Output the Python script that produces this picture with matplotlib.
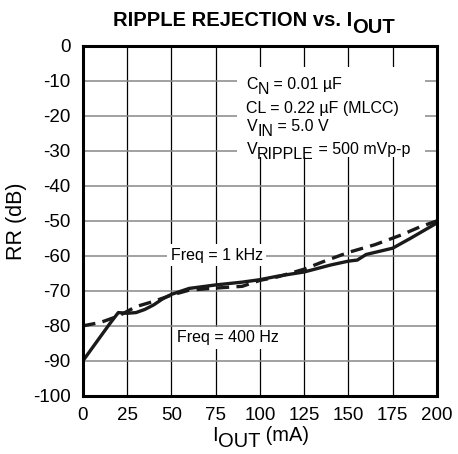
import matplotlib
matplotlib.use("Agg")
import matplotlib.pyplot as plt
from matplotlib.patches import Rectangle

plt.rcParams['font.family'] = ['Liberation Sans', 'DejaVu Sans']
plt.rcParams['axes.unicode_minus'] = False

# Data
x_solid = [0, 5, 10, 15, 20, 25, 30, 35, 40, 45, 50, 60, 75, 90, 100, 110, 125,
           140, 150, 155, 160, 175, 185, 200]
rr_solid = [-90, -86.5, -83, -79.5, -76.2, -76.4, -76.2, -75.3, -74, -72.3, -71,
            -69.3, -68.3, -67.5, -66.8, -65.8, -64.6, -62.6, -61.5, -61.2, -59.6,
            -57.8, -55, -50.6]
x_dash = [0, 10, 20, 30, 40, 50, 60, 75, 90, 100, 110, 125, 135, 150, 165, 180,
          190, 200]
rr_dash = [-80, -79, -77.2, -74.5, -73, -71.2, -69.8, -69.2, -68.7, -67, -66,
           -63.8, -61.8, -59, -56.8, -54, -51.8, -50]
x_ticks = [0, 25, 50, 75, 100, 125, 150, 175, 200]
y_ticks = [0, -10, -20, -30, -40, -50, -60, -70, -80, -90, -100]

fig = plt.figure(figsize=(4.58, 4.54), dpi=100)
ax = fig.add_axes([0.181, 0.128, 0.773, 0.771])

ax.set_xlim(0, 200)
ax.set_ylim(-100, 0)
ax.set_xticks(x_ticks)
ax.set_yticks(y_ticks)
ax.tick_params(length=0, labelsize=13.5)
ax.tick_params(axis='y', pad=9)
ax.tick_params(axis='x', pad=8)

for t in x_ticks[1:-1]:
    ax.axvline(t, color='black', lw=0.9, zorder=1)
for t in y_ticks[1:-1]:
    ax.axhline(t, color='#888888', lw=1.1, zorder=1)

ax.plot(x_solid, rr_solid, color='#1a1a1a', lw=2.4, solid_capstyle='butt', zorder=3)
ax.plot(x_dash, rr_dash, color='#1a1a1a', lw=2.4, dashes=(3.8, 2.2), zorder=3)

for s in ax.spines.values():
    s.set_linewidth(2.2)
    s.set_zorder(5)


def sub_text(x, y, parts, transform, fontsize, weight='normal', zorder=4):
    """parts: list of (string, vertical offset in points relative to baseline)."""
    first = ax.text(x, y, parts[0][0], transform=transform, fontsize=fontsize,
                    fontweight=weight, ha='left', va='baseline', zorder=zorder,
                    clip_on=False)
    prev, prev_off = first, parts[0][1]
    for s, off in parts[1:]:
        t = ax.annotate(s, xy=(1, 0), xycoords=prev, xytext=(0, off - prev_off),
                        textcoords='offset points', fontsize=fontsize,
                        fontweight=weight, ha='left', va='bottom',
                        annotation_clip=False, zorder=zorder)
        t.set_clip_on(False)
        prev, prev_off = t, off
    return first


bbox = dict(facecolor='white', edgecolor='none', pad=2.5)
ax.text(75.5, -59.8, 'Freq = 1 kHz', fontsize=11.5, ha='center', va='center',
        bbox=bbox, zorder=4)
ax.text(82, -83.4, 'Freq = 400 Hz', fontsize=11.5, ha='center', va='center',
        bbox=bbox, zorder=4)

# white background behind the condition block
ax.add_patch(Rectangle((87, -31.7), 106, 25.7, facecolor='white', edgecolor='none',
                       zorder=2))
sub = -3.6
sub_text(92.4, -12.2, [('C', 0), ('N', sub), (' = 0.01 µF', 0)], ax.transData, 11.5)
sub_text(92.4, -19.1, [('CL = 0.22 µF (MLCC)', 0)], ax.transData, 11.5)
sub_text(92.4, -24.4, [('V', 0), ('IN', sub), (' = 5.0 V', 0)], ax.transData, 11.5)
sub_text(92.4, -31.0, [('V', 0), ('RIPPLE', sub), (' = 500 mVp-p', 0)],
         ax.transData, 11.5)

ax.set_ylabel('RR (dB)', fontsize=15.5, labelpad=4)

# x label with subscript
sub_text(212 / 458, 1 - 441 / 454, [('I', 0), ('OUT', -4.0), (' (mA)', 0)],
         fig.transFigure, 14.5)

# title with subscript
sub_text(113 / 458, 1 - 25.7 / 454,
         [('RIPPLE REJECTION vs. I', 0), ('OUT', -5.5)],
         fig.transFigure, 14.5, weight='bold')

fig.savefig('out.png', dpi=100)
